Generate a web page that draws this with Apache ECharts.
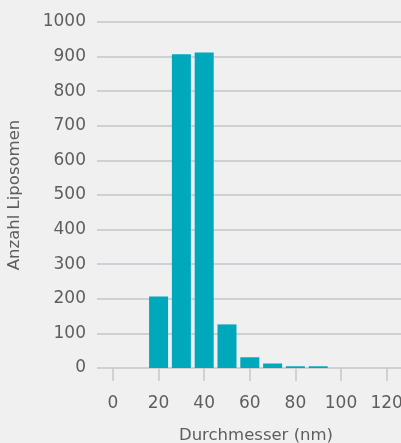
<!DOCTYPE html>
<html>
<head>
<meta charset="utf-8">
<script src="https://cdn.jsdelivr.net/npm/echarts@6/dist/echarts.min.js"></script>
<style>
  html, body { margin: 0; padding: 0; background: #f0f0f0; }
  #chart { width: 401px; height: 443px; }
</style>
</head>
<body>
<div id="chart"></div>
<script>
// Liposome size distribution: count per diameter class (nm)
const diameters = [20, 30, 40, 50, 60, 70, 80, 90];
const counts = [207, 907, 912, 126, 31, 13, 5, 5];
const xTicks = [0, 20, 40, 60, 80, 100, 120];

const textColor = '#5e5e5e';
const font = '"DejaVu Sans", sans-serif';

const chart = echarts.init(document.getElementById('chart'));
chart.setOption({
  backgroundColor: '#f0f0f0',
  animation: false,
  grid: { left: 97, right: 0, top: 22, bottom: 75, outerBoundsMode: 'none' },
  xAxis: {
    type: 'value',
    min: -7,
    max: 126.3,
    offset: 6,
    name: 'Durchmesser (nm)',
    nameLocation: 'middle',
    nameGap: 53,
    nameTextStyle: { color: textColor, fontSize: 16.5, fontFamily: font, padding: [0, 0, 0, 14] },
    axisLine: { show: false },
    axisTick: { show: true, customValues: xTicks, length: 13, lineStyle: { color: '#c4c6cb', width: 1.5 } },
    axisLabel: { customValues: xTicks, color: textColor, fontSize: 17, fontFamily: font, margin: 21 },
    splitLine: { show: false }
  },
  yAxis: {
    type: 'value',
    min: 0,
    max: 1000,
    interval: 100,
    name: 'Anzahl Liposomen',
    nameLocation: 'middle',
    nameGap: 74,
    nameTextStyle: { color: textColor, fontSize: 16.5, fontFamily: font },
    axisLine: { show: false },
    axisTick: { show: false },
    axisLabel: { color: textColor, fontSize: 17, fontFamily: font, margin: 11, formatter: v => String(v) },
    splitLine: { lineStyle: { color: '#c4c6cb', width: 1.5 } }
  },
  series: [{
    type: 'bar',
    barWidth: 19,
    itemStyle: { color: '#00a8bb' },
    data: diameters.map((d, i) => [d, counts[i]])
  }]
});
</script>
</body>
</html>
